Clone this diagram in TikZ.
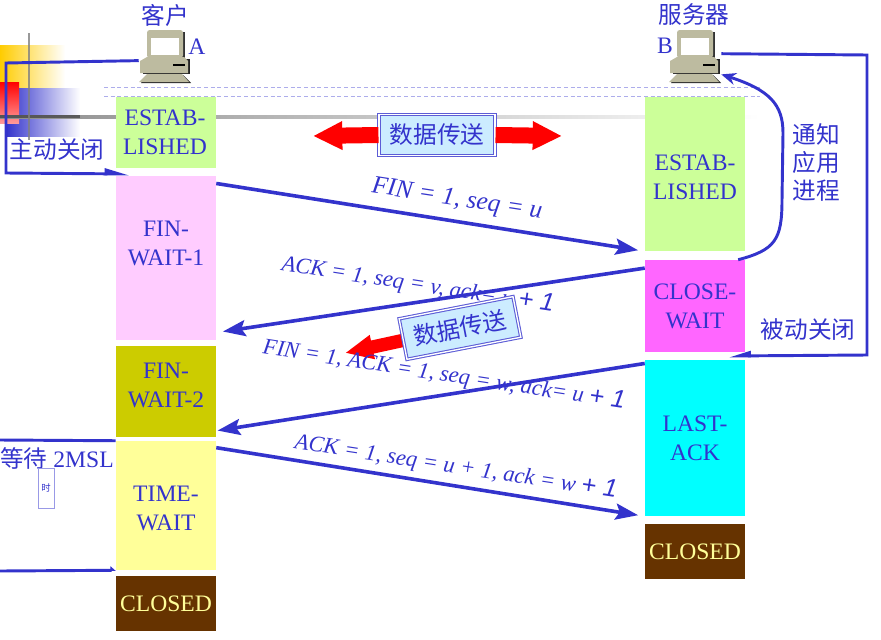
\documentclass[tikz,border=0pt]{standalone}
\usepackage{fontspec}
\setmainfont{Liberation Serif}
\newfontfamily\cjk{Noto Sans CJK SC}
\newfontfamily\endfont{Liberation Sans}
\usetikzlibrary{arrows.meta}
\definecolor{ink}{HTML}{3333CC}
\definecolor{boxblue}{HTML}{CCECFF}
\definecolor{body}{HTML}{BDBBA0}
\definecolor{amber}{HTML}{FFCC00}
\definecolor{aqua}{HTML}{00FFFF}
\definecolor{brown}{HTML}{663300}
\definecolor{paleyellow}{HTML}{FFFF99}
\definecolor{palegreen}{HTML}{CCFF99}
\newcommand{\lastone}{{\endfont\itshape\fontsize{19pt}{19pt}\selectfont + 1}}
\tikzset{
    state/.style={minimum width=75pt, inner sep=0pt, align=center, text=ink,
        font=\fontsize{17.7pt}{21.75pt}\selectfont},
    label/.style={text=ink, inner sep=0pt, align=center, font=\cjk\fontsize{17.75pt}{21pt}\selectfont},
    msg/.style={text=ink, inner sep=0pt, rotate=-8.7, font=\itshape\fontsize{17pt}{18pt}\selectfont},
    seqline/.style={draw=ink, line width=2.7pt, -{Stealth[length=17pt,width=12pt,inset=3pt]}},
    frameline/.style={draw=ink, line width=2.2pt},
    dataarrow/.style={draw=red, -{Triangle[length=22pt,width=20pt]}},
    databox/.style={draw=ink!80, double=white, double distance=1pt, line width=.8pt, fill=boxblue,
        minimum width=87pt, minimum height=31pt, inner sep=0pt, text=ink,
        font=\cjk\fontsize{17.75pt}{21pt}\selectfont},
    host/.style={minimum width=39pt, minimum height=39pt, inner sep=0pt},
    computer/.pic={
        % Monitor
        \fill[black!80] (-16,-24) -- (20,-24) -- (20,2) -- (-16,2) -- cycle;
        \fill[body, rounded corners=2pt] (-18,-26) -- (18,-26) -- (18,2) -- (-18,2) -- cycle;
        \fill[white] (-14,-18) rectangle (14,-1);
        % Case
        \fill[black!85] (-22,3) -- (25,3) -- (25,18) -- (-22,18) -- cycle;
        \fill[body] (-25,5) -- (-18,1) -- (19,1) -- (23,5) -- (23,17) -- (-25,17) -- cycle;
        \draw[black, line width=.8pt] (8,9) -- (20,9);
        % Foot
        \fill[black!85] (-18,19) -- (18,19) -- (26,27) -- (-24,27) -- cycle;
        \fill[body] (-18,18) -- (17,18) -- (24,26) -- (-26,26) -- cycle;
    }
}
\begin{document}
\begin{tikzpicture}[x=.75pt, y=-.75pt]
    \useasboundingbox (0,0) rectangle (881,639);

    % Corner decoration
    \fill[left color=amber, middle color=amber, right color=white] (0,45) rectangle (65,88);
    \fill[left color=ink, middle color=ink, right color=white] (6,88) rectangle (80,136);
    \fill[top color=red, bottom color=red!40] (0,82) rectangle (19,123);
    \fill[left color=gray!90, right color=white] (0,115) rectangle (760,118);
    \fill[black, opacity=.4] (0,115) rectangle (80,118);
    \fill[gray, opacity=.8] (28,33) rectangle (30,140);
    \draw[ink!40, line width=.4pt, densely dashed] (104,87) -- (760,87);
    \draw[ink!40, line width=.4pt, densely dashed] (104,96) -- (760,96);

    % Hosts
    \node[host] (hostA) at (165,56) {};
    \node[host] (hostB) at (695,56) {};
    \pic at (165,56) {computer};
    \pic at (695,56) {computer};
    \node[label] (nameA) at (165,15) {客户};
    \node[label] (nameB) at (694,15) {服务器};
    \node[state, minimum width=0pt] (letterA) at (197,47) {A};
    \node[state, minimum width=0pt] (letterB) at (665,46) {B};

    % States of A
    \node[state, fill=palegreen, minimum height=53.25pt] (estabA) at (166,132.5) {};
    \node[state] (estabAtext) at (165,132) {ESTAB-\\LISHED};
    \node[state, fill={rgb,255:red,255;green,204;blue,255}, minimum height=123pt] (finwaitone) at (166,258) {};
    \node[state] (finwaitonetext) at (166,243) {FIN-\\WAIT-1};
    \node[state, fill={rgb,255:red,204;green,204;blue,0}, minimum height=68.25pt] (finwaittwo) at (166,391.5) {};
    \node[state] (finwaittwotext) at (166,385) {FIN-\\WAIT-2};
    \node[state, fill=paleyellow, minimum height=96.75pt] (timewait) at (166,505.5) {};
    \node[state] (timewaittext) at (166,508) {TIME-\\WAIT};
    \node[state, fill=brown, text=paleyellow, minimum height=41.25pt] (closedA) at (166,603.5) {CLOSED};

    % States of B
    \node[state, fill=palegreen, minimum height=115.5pt] (estabB) at (695,174) {};
    \node[state] (estabBtext) at (695,177) {ESTAB-\\LISHED};
    \node[state, fill={rgb,255:red,255;green,102;blue,255}, minimum height=69pt] (closewait) at (695,306) {CLOSE-\\WAIT};
    \node[state, fill=aqua, minimum height=117pt] (lastack) at (695,438) {LAST-\\ACK};
    \node[state, fill=brown, text=paleyellow, minimum height=41.25pt] (closedB) at (695,551.5) {CLOSED};

    % Segments
    \draw[seqline, shorten >=5pt] (finwaitone.56) -- (estabB.south west);
    \draw[seqline, shorten >=5pt] (closewait.143) -- (finwaitone.-56);
    \draw[seqline, shorten >=1pt] (lastack.124) -- (finwaittwo.-38);
    \draw[seqline, shorten >=5pt] (timewait.49) -- (lastack.south west);

    % Close and notify lines
    \coordinate (closeA) at (130,174);
    \coordinate (closeB) at (728,356);
    \draw[frameline, -{Triangle[left,length=15pt,width=8pt]}] (hostA.190) -- (6,63) -- (6,173) -- (closeA);
    \draw[frameline, -{Triangle[right,length=13pt,width=7pt]}] (hostB.5) -- (867,55) -- (867,355) -- (closeB);
    \draw[frameline, -{Stealth[length=11pt,width=9pt]}] (closewait.47) .. controls (775,250) and (782,240) .. (782,200)
        -- (783,133) .. controls (783,105) and (770,90) .. (hostB.-35);
    \coordinate (waitstart) at (0,440);
    \coordinate (waitend) at (0,571);
    \draw[frameline] (waitstart) -- (timewait.north west);
    \draw[frameline, -{Triangle[left,length=3.5pt,width=6pt]}] (waitend) -- (timewait.south west);

    % First data transfer
    \node[databox] (dataone) at (437,135) {数据传送};
    \coordinate (tipleft) at (313,136);
    \coordinate (tipright) at (562,136);
    \draw[dataarrow, line width=12pt] (dataone.west) -- (tipleft);
    \draw[dataarrow, line width=12pt] (dataone.east) -- (tipright);

    % Second data transfer
    \coordinate (datacentre) at (460,328);
    \coordinate (tipback) at (345,353);
    \draw[dataarrow, line width=10pt, -{Triangle[length=21pt,width=17pt]}] (datacentre) -- (tipback);

    % Segment labels
    \node[msg, font=\itshape\fontsize{19pt}{20pt}\selectfont] (fintext) at (457,200) {FIN = 1, seq = u};
    \node[msg] (acktext) at (418,285) {ACK = 1, seq = v, ack= u \lastone};
    \node[msg] (finacktext) at (444,375) {FIN = 1, ACK = 1, seq = w, ack= u \lastone};
    \node[msg] (lastacktext) at (456,467) {ACK = 1, seq = u + 1, ack = w \lastone};

    \node[databox, rotate=11] (datatwo) at (datacentre) {数据传送};

    % Side labels
    \node[label] (activeclose) at (57,150) {主动关闭};
    \node[label] (passiveclose) at (808,330) {被动关闭};
    \node[label] (notify) at (816,162) {通知\\应用\\进程};
    \node[state, minimum width=0pt, anchor=west] (waittext) at (0,458) {{\cjk 等待} 2MSL};
    \node[draw=ink!50, line width=.6pt, minimum width=12pt, minimum height=30pt, inner sep=0pt, text=ink,
        font=\cjk\fontsize{7pt}{8pt}\selectfont] (timer) at (46,488) {时};
\end{tikzpicture}
\end{document}
